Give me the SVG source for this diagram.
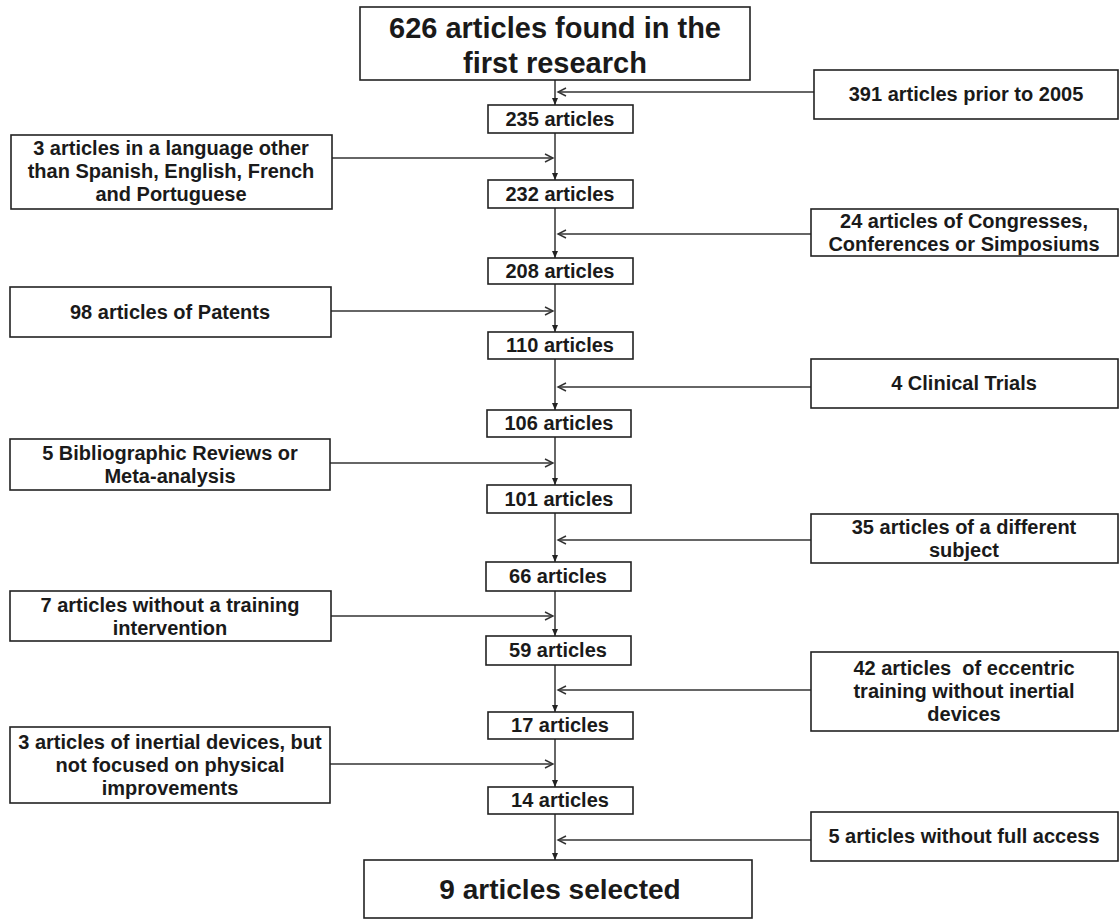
<svg xmlns="http://www.w3.org/2000/svg" width="1120" height="922" viewBox="0 0 1120 922">
<style>
  .box{fill:#fff;stroke:#222;stroke-width:1.6}
  .t{font-family:"Liberation Sans",Arial,sans-serif;font-weight:bold;font-size:20px;fill:#1a1a1a;text-anchor:middle}
  .big{font-size:29px}
  .sel{font-size:28px}
  .c{stroke:#333;stroke-width:1.5;fill:none}
  .v{marker-end:url(#down)}
  .h{marker-end:url(#chev)}
</style>
<defs>
  <marker id="down" markerUnits="userSpaceOnUse" markerWidth="7" markerHeight="6" refX="7" refY="3" orient="auto" overflow="visible">
    <path d="M0,0 L7,3 L0,6 z" fill="#222"/>
  </marker>
  <marker id="chev" markerUnits="userSpaceOnUse" markerWidth="9" markerHeight="9" refX="8" refY="4" orient="auto" overflow="visible">
    <path d="M0,0 L8,4 L0,8" fill="none" stroke="#333" stroke-width="1.4"/>
  </marker>
</defs>
<rect width="1120" height="922" fill="#fff"/>

<g id="connectors">
  <line class="c v" x1="555" y1="80" x2="555" y2="105"/>
  <line class="c v" x1="555" y1="133" x2="555" y2="180"/>
  <line class="c v" x1="555" y1="208" x2="555" y2="258"/>
  <line class="c v" x1="555" y1="284" x2="555" y2="332"/>
  <line class="c v" x1="555" y1="359" x2="555" y2="410"/>
  <line class="c v" x1="555" y1="437" x2="555" y2="485"/>
  <line class="c v" x1="555" y1="513" x2="555" y2="562"/>
  <line class="c v" x1="555" y1="591" x2="555" y2="636"/>
  <line class="c v" x1="555" y1="665" x2="555" y2="712"/>
  <line class="c v" x1="555" y1="739" x2="555" y2="787"/>
  <line class="c v" x1="555" y1="814" x2="555" y2="860"/>
  <line class="c h" x1="814" y1="92" x2="558" y2="92"/>
  <line class="c h" x1="811" y1="234" x2="558" y2="234"/>
  <line class="c h" x1="811" y1="387" x2="558" y2="387"/>
  <line class="c h" x1="811" y1="540" x2="558" y2="540"/>
  <line class="c h" x1="811" y1="690" x2="558" y2="690"/>
  <line class="c h" x1="811" y1="840" x2="558" y2="840"/>
  <line class="c h" x1="332" y1="158" x2="553" y2="158"/>
  <line class="c h" x1="331" y1="311" x2="553" y2="311"/>
  <line class="c h" x1="330" y1="463" x2="553" y2="463"/>
  <line class="c h" x1="331" y1="616" x2="553" y2="616"/>
  <line class="c h" x1="330" y1="764" x2="553" y2="764"/>
</g>

<g id="n626"><rect class="box" x="360" y="7" width="390" height="73"/>
  <text class="t big" x="555" y="38">626 articles found in the</text>
  <text class="t big" x="555" y="73">first research</text></g>
<g id="n235"><rect class="box" x="488" y="105" width="145" height="28"/><text class="t" x="560" y="126">235 articles</text></g>
<g id="n232"><rect class="box" x="488" y="180" width="145" height="28"/><text class="t" x="560" y="201">232 articles</text></g>
<g id="n208"><rect class="box" x="488" y="258" width="145" height="26"/><text class="t" x="560" y="278">208 articles</text></g>
<g id="n110"><rect class="box" x="488" y="332" width="145" height="27"/><text class="t" x="560" y="352">110 articles</text></g>
<g id="n106"><rect class="box" x="487" y="410" width="144" height="27"/><text class="t" x="559" y="430">106 articles</text></g>
<g id="n101"><rect class="box" x="487" y="485" width="144" height="28"/><text class="t" x="559" y="506">101 articles</text></g>
<g id="n66"><rect class="box" x="486" y="562" width="145" height="29"/><text class="t" x="558" y="583">66 articles</text></g>
<g id="n59"><rect class="box" x="486" y="636" width="145" height="29"/><text class="t" x="558" y="657">59 articles</text></g>
<g id="n17"><rect class="box" x="488" y="712" width="145" height="27"/><text class="t" x="560" y="732">17 articles</text></g>
<g id="n14"><rect class="box" x="488" y="787" width="145" height="27"/><text class="t" x="560" y="807">14 articles</text></g>
<g id="n9"><rect class="box" x="364" y="860" width="388" height="58"/><text class="t sel" x="560" y="899">9 articles selected</text></g>

<g id="r391"><rect class="box" x="814" y="70" width="304" height="49"/><text class="t" x="966" y="101">391 articles prior to 2005</text></g>
<g id="r24"><rect class="box" x="811" y="209" width="307" height="47"/>
  <text class="t" x="964" y="228">24 articles of Congresses,</text>
  <text class="t" x="964" y="251">Conferences or Simposiums</text></g>
<g id="r4"><rect class="box" x="811" y="359" width="307" height="49"/><text class="t" x="964" y="390">4 Clinical Trials</text></g>
<g id="r35"><rect class="box" x="811" y="514" width="307" height="49"/>
  <text class="t" x="964" y="534">35 articles of a different</text>
  <text class="t" x="964" y="557">subject</text></g>
<g id="r42"><rect class="box" x="811" y="652" width="307" height="79"/>
  <text class="t" x="964" y="675" xml:space="preserve">42 articles  of eccentric</text>
  <text class="t" x="964" y="698">training without inertial</text>
  <text class="t" x="964" y="721">devices</text></g>
<g id="r5"><rect class="box" x="811" y="812" width="307" height="49"/><text class="t" x="964" y="843">5 articles without full access</text></g>

<g id="l3"><rect class="box" x="11" y="135" width="321" height="74"/>
  <text class="t" x="171" y="155">3 articles in a language other</text>
  <text class="t" x="171" y="178">than Spanish, English, French</text>
  <text class="t" x="171" y="201">and Portuguese</text></g>
<g id="l98"><rect class="box" x="10" y="287" width="321" height="50"/><text class="t" x="170" y="319">98 articles of Patents</text></g>
<g id="l5"><rect class="box" x="10" y="439" width="320" height="51"/>
  <text class="t" x="170" y="460">5 Bibliographic Reviews or</text>
  <text class="t" x="170" y="483">Meta-analysis</text></g>
<g id="l7"><rect class="box" x="10" y="591" width="321" height="50"/>
  <text class="t" x="170" y="612">7 articles without a training</text>
  <text class="t" x="170" y="635">intervention</text></g>
<g id="l3b"><rect class="box" x="10" y="727" width="320" height="76"/>
  <text class="t" x="170" y="749">3 articles of inertial devices, but</text>
  <text class="t" x="170" y="772">not focused on physical</text>
  <text class="t" x="170" y="795">improvements</text></g>
</svg>
